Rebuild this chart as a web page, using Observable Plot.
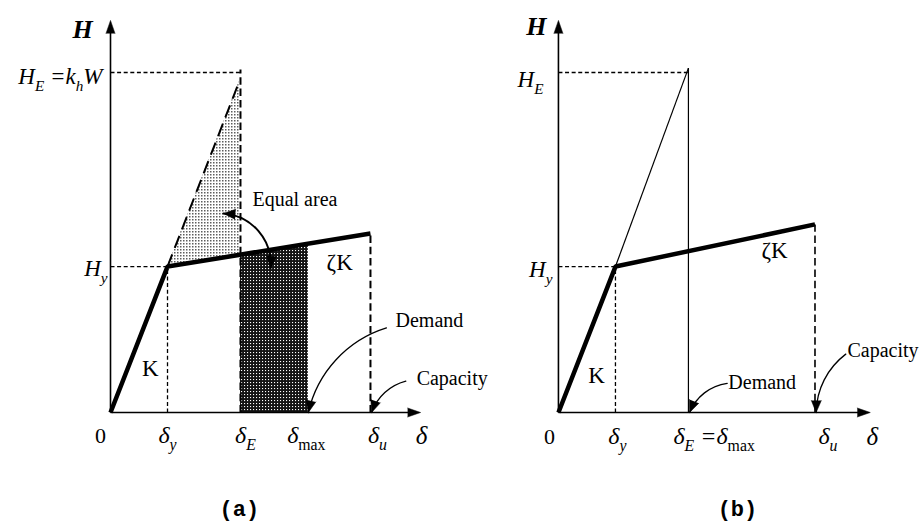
<!DOCTYPE html>
<html><head><meta charset="utf-8">
<script src="https://cdn.jsdelivr.net/npm/d3@7"></script>
<script src="https://cdn.jsdelivr.net/npm/@observablehq/plot@0.6"></script>
<style>
html,body{margin:0;padding:0;background:#fff;}
#chart{width:922px;height:523px;overflow:hidden;}
</style></head><body><div id="chart"></div>
<script>
// ---------- data ----------
const panels = ["a", "b"];
const captions = ["(a)", "(b)"];
// displacements (δ), per panel
const deltaY = [1.0, 1.0];
const deltaE = [2.28, 2.28];
const deltaMax = [3.47, 2.28];
const deltaU = [4.56, 4.5];
// forces (H), per panel
const forceY = [1.0, 1.0];
const forceE = [2.33, 2.33];
const forceU = [1.227, 1.289];
// end of elastic extension line (a: dashed, b: thin solid)
const elasticEndX = [2.24, 2.28];
const elasticEndY = [2.25, 2.36];
const deltaELineTop = [2.35, 2.36];
// axis extents
const xAxisEnd = [5.44, 5.47];
const yAxisEnd = [2.687, 2.687];
// text
const axisLabelY = "H";
const axisLabelX = "δ";
const forceLabels = [["H_{E} =k_{h}W", "H_{y}"], ["H_{E}", "H_{y}"]];
const tickLabels = [["0", "δ_{y}", "δ_{E}", "δ_{~max}", "δ_{u}"], ["0", "δ_{y}", "δ_{E} =δ_{~max}", "δ_{u}"]];
const stiffnessLabels = ["K", "ζK"];
const noteLabels = ["Equal area", "Demand", "Capacity"];

// ---------- layout ----------
const W = 922, Hh = 523, mL = 110, mR = 50.5, mT = 18, mB = 111;
const xMax = 5.5, yMax = 2.7, padIn = 0.3;
const step = (W - mL - mR) / (2 - padIn);
const kx = step * (1 - padIn) / xMax;
const ky = (Hh - mT - mB) / yMax;

const Hpost = (i, d) => forceY[i] + (d - deltaY[i]) * (forceU[i] - forceY[i]) / (deltaU[i] - deltaY[i]);
const Helas = (i, d) => forceY[i] + (d - deltaY[i]) * (elasticEndY[i] - forceY[i]) / (elasticEndX[i] - deltaY[i]);

// bilinear capacity curve
const bilinear = panels.flatMap((p, i) => [
  {panel: p, x: 0, y: 0}, {panel: p, x: deltaY[i], y: forceY[i]}, {panel: p, x: deltaU[i], y: forceU[i]}]);

// shaded regions (panel a)
const lightArea = [deltaY[0], deltaE[0]].map(d => ({panel: "a", x: d, y1: Hpost(0, d), y2: Helas(0, d)}));
const darkArea = [deltaE[0], deltaMax[0]].map(d => ({panel: "a", x: d, y1: 0, y2: Hpost(0, d)}));

// guide segments
const fine = panels.flatMap((p, i) => [
  {panel: p, x1: 0, y1: forceE[i], x2: deltaE[i], y2: forceE[i]},
  {panel: p, x1: 0, y1: forceY[i], x2: deltaY[i], y2: forceY[i]},
  {panel: p, x1: deltaY[i], y1: 0, x2: deltaY[i], y2: forceY[i]}]);
const boldDash = [
  {panel: "a", x1: deltaE[0], y1: 0, x2: deltaE[0], y2: deltaELineTop[0], w: 2},
  {panel: "a", x1: deltaU[0], y1: 0, x2: deltaU[0], y2: forceU[0], w: 2},
  {panel: "b", x1: deltaU[1], y1: 0, x2: deltaU[1], y2: forceU[1], w: 1.6}];
const longDash = [{panel: "a", x1: deltaY[0], y1: forceY[0], x2: elasticEndX[0], y2: elasticEndY[0]}];
const thinSolid = [
  {panel: "b", x1: deltaY[1], y1: forceY[1], x2: elasticEndX[1], y2: elasticEndY[1]},
  {panel: "b", x1: deltaE[1], y1: 0, x2: deltaE[1], y2: deltaELineTop[1]}];

const axes = panels.flatMap((p, i) => [
  {panel: p, x1: 0, y1: 0, x2: xAxisEnd[i] - 0.1, y2: 0},
  {panel: p, x1: 0, y1: 0, x2: 0, y2: yAxisEnd[i] - 0.04}]);

// curved annotation arrows
const curved = [
  {panel: "a", x1: 1.98, y1: 1.364, x2: 2.81, y2: 0.99, bend: 45, both: true, w: 2},
  {panel: "a", x1: 4.84, y1: 0.58, x2: deltaMax[0], y2: 0, bend: -30, w: 1.3},
  {panel: "a", x1: 5.18, y1: 0.215, x2: deltaU[0] + 0.02, y2: 0, bend: -28, w: 1.3},
  {panel: "b", x1: 2.96, y1: 0.2, x2: deltaE[1] + 0.02, y2: 0, bend: -30, w: 1.3},
  {panel: "b", x1: 5.04, y1: 0.40, x2: deltaU[1] + 0.02, y2: 0, bend: -26, w: 1.3}];
const deg = 180 / Math.PI;
const heads = [];
for (const c of curved) {
  const la = Math.atan2(-(c.y2 - c.y1) * ky, (c.x2 - c.x1) * kx) * deg;
  heads.push({panel: c.panel, x: c.x2, y: c.y2, rotate: la + c.bend + 90});
  if (c.both) heads.push({panel: c.panel, x: c.x1, y: c.y1, rotate: la - c.bend + 180 + 90});
}
const axisHeads = panels.flatMap((p, i) => [
  {panel: p, x: xAxisEnd[i], y: 0, rotate: 90},
  {panel: p, x: 0, y: yAxisEnd[i], rotate: 0}]);

// ---------- labels ----------
const font = "Liberation Serif";
function lbl(panel, x, y, text, o = {}) {
  return Plot.text([{panel, x, y, text}], {
    fx: "panel", x: "x", y: "y", text: "text",
    dx: o.dx || 0, dy: o.dy || 0, fontSize: o.size || 21,
    fontFamily: o.font || font, fontStyle: o.italic ? "italic" : "normal",
    fontWeight: o.bold ? "bold" : "normal",
    textAnchor: o.anchor || "middle", lineAnchor: "middle", fill: "black"});
}
const labels = [
  // panel a
  lbl("a", 0, yAxisEnd[0], axisLabelY, {dx: -28, dy: 9, size: 26, italic: true, bold: true}),
  lbl("a", 0, forceE[0], forceLabels[0][0], {dx: -8, dy: 4, anchor: "end", italic: true, size: 23}),
  lbl("a", 0, forceY[0], forceLabels[0][1], {dx: -3, dy: 2, anchor: "end", italic: true, size: 23}),
  lbl("a", 0, 0, tickLabels[0][0], {dx: -10, dy: 23, size: 22}),
  lbl("a", deltaY[0], 0, tickLabels[0][1], {dx: 0, dy: 23, italic: true, size: 24}),
  lbl("a", deltaE[0], 0, tickLabels[0][2], {dx: 5, dy: 23, italic: true, size: 24}),
  lbl("a", deltaMax[0], 0, tickLabels[0][3], {dx: -2, dy: 23, italic: true, size: 24}),
  lbl("a", deltaU[0], 0, tickLabels[0][4], {dx: 7, dy: 23, italic: true, size: 24}),
  lbl("a", xAxisEnd[0], 0, axisLabelX, {dx: 1, dy: 23, italic: true, size: 25}),
  lbl("a", 0.70, 0.30, stiffnessLabels[0], {size: 23}),
  lbl("a", 4.02, 1.03, stiffnessLabels[1], {size: 23}),
  lbl("a", 2.49, 1.46, noteLabels[0], {anchor: "start", size: 20}),
  lbl("a", 5.0, 0.63, noteLabels[1], {anchor: "start", size: 20}),
  lbl("a", 5.37, 0.23, noteLabels[2], {anchor: "start", size: 20}),
  lbl("a", 2.26, 0, captions[0], {dy: 96, font: "Liberation Mono", bold: true, size: 22}),
  // panel b
  lbl("b", 0, yAxisEnd[1], axisLabelY, {dx: -22, dy: 6, size: 26, italic: true, bold: true}),
  lbl("b", 0, forceE[1], forceLabels[1][0], {dx: -15, dy: 7, anchor: "end", italic: true, size: 23}),
  lbl("b", 0, forceY[1], forceLabels[1][1], {dx: -6, dy: 3, anchor: "end", italic: true, size: 23}),
  lbl("b", 0, 0, tickLabels[1][0], {dx: -9, dy: 24, size: 22}),
  lbl("b", deltaY[1], 0, tickLabels[1][1], {dx: 2, dy: 24, italic: true, size: 24}),
  lbl("b", deltaE[1], 0, tickLabels[1][2], {dx: -15, dy: 24, anchor: "start", italic: true, size: 24}),
  lbl("b", deltaU[1], 0, tickLabels[1][3], {dx: 13, dy: 24, italic: true, size: 24}),
  lbl("b", xAxisEnd[1], 0, axisLabelX, {dx: 2, dy: 24, italic: true, size: 25}),
  lbl("b", 0.667, 0.254, stiffnessLabels[0], {size: 23}),
  lbl("b", 3.79, 1.11, stiffnessLabels[1], {size: 23}),
  lbl("b", 2.98, 0.206, noteLabels[1], {anchor: "start", size: 20}),
  lbl("b", 5.07, 0.425, noteLabels[2], {anchor: "start", size: 20}),
  lbl("b", 3.14, 0, captions[1], {dy: 96, font: "Liberation Mono", bold: true, size: 22})
];

const linkOpts = {fx: "panel", x1: "x1", y1: "y1", x2: "x2", y2: "y2", stroke: "black"};

const chart = Plot.plot({
  width: W, height: Hh,
  marginLeft: mL, marginRight: mR, marginTop: mT, marginBottom: mB,
  x: {domain: [0, xMax], axis: null},
  y: {domain: [0, yMax], axis: null},
  fx: {domain: panels, axis: null, paddingInner: padIn, paddingOuter: 0, round: false},
  style: {background: "white", overflow: "visible"},
  marks: [
    Plot.areaY(lightArea, {fx: "panel", x: "x", y1: "y1", y2: "y2", fill: "url(#lightdots)"}),
    Plot.areaY(darkArea, {fx: "panel", x: "x", y1: "y1", y2: "y2", fill: "url(#darkdots)"}),
    Plot.link(fine, {...linkOpts, strokeWidth: 1.3, strokeDasharray: "4,2.6"}),
    Plot.link(boldDash, {...linkOpts, strokeWidth: "w", strokeDasharray: "7.5,3.8"}),
    Plot.link(longDash, {...linkOpts, strokeWidth: 2, strokeDasharray: "13,7"}),
    Plot.link(thinSolid, {...linkOpts, strokeWidth: 1.2}),
    Plot.link(axes, {...linkOpts, strokeWidth: 1.6}),
    Plot.line(bilinear, {fx: "panel", x: "x", y: "y", stroke: "black", strokeWidth: 4.5, strokeLinejoin: "miter", strokeLinecap: "butt"}),
    ...curved.map(c => Plot.arrow([c], {fx: "panel", x1: "x1", y1: "y1", x2: "x2", y2: "y2", bend: c.bend, headLength: 0, stroke: "black", strokeWidth: c.w})),
    Plot.vector(heads, {fx: "panel", x: "x", y: "y", rotate: "rotate", shape: "spike", anchor: "end", length: 12, r: 5, fill: "black", stroke: "black", strokeWidth: 0.5}),
    Plot.vector(axisHeads, {fx: "panel", x: "x", y: "y", rotate: "rotate", shape: "spike", anchor: "end", length: 13, r: 4.5, fill: "black", stroke: "black", strokeWidth: 0.5}),
    ...labels
  ]
});
document.getElementById("chart").appendChild(chart);
const svg = chart.tagName.toLowerCase() === "svg" ? chart : chart.querySelector("svg");

// fill patterns
const NS = "http://www.w3.org/2000/svg";
const defs = document.createElementNS(NS, "defs");
defs.innerHTML =
  '<pattern id="lightdots" patternUnits="userSpaceOnUse" width="3" height="3">' +
  '<rect width="3" height="3" fill="#ffffff"/><rect x="0" y="0" width="1.5" height="1.5" fill="#5e5e5e"/></pattern>' +
  '<pattern id="darkdots" patternUnits="userSpaceOnUse" width="3" height="3">' +
  '<rect width="3" height="3" fill="#141414"/><rect x="1" y="1" width="1.1" height="1.1" fill="#ffffff"/></pattern>';
svg.insertBefore(defs, svg.firstChild);

// subscripts: "_{...}" -> lowered smaller tspan; leading "~" -> upright
svg.querySelectorAll("text").forEach(t => {
  const s = t.textContent;
  if (!s.includes("_")) return;
  const fs = parseFloat(getComputedStyle(t).fontSize) || 21;
  const parts = s.split(/(_\{[^}]*\}|_.)/).filter(x => x !== "");
  t.textContent = "";
  const shift = 0.3 * fs;
  let lowered = false;
  for (const part of parts) {
    const ts = document.createElementNS(NS, "tspan");
    let txt = part, sub = false, upright = false;
    if (part.startsWith("_")) { sub = true; txt = part[1] === "{" ? part.slice(2, -1) : part.slice(1); }
    if (txt.startsWith("~")) { upright = true; txt = txt.slice(1); }
    if (sub) {
      ts.setAttribute("font-size", (fs * 0.66).toFixed(1) + "px");
      if (!lowered) { ts.setAttribute("dy", shift.toFixed(1)); lowered = true; }
    } else if (lowered) { ts.setAttribute("dy", (-shift).toFixed(1)); lowered = false; }
    if (upright) ts.setAttribute("font-style", "normal");
    ts.textContent = txt;
    t.appendChild(ts);
  }
});
</script></body></html>
